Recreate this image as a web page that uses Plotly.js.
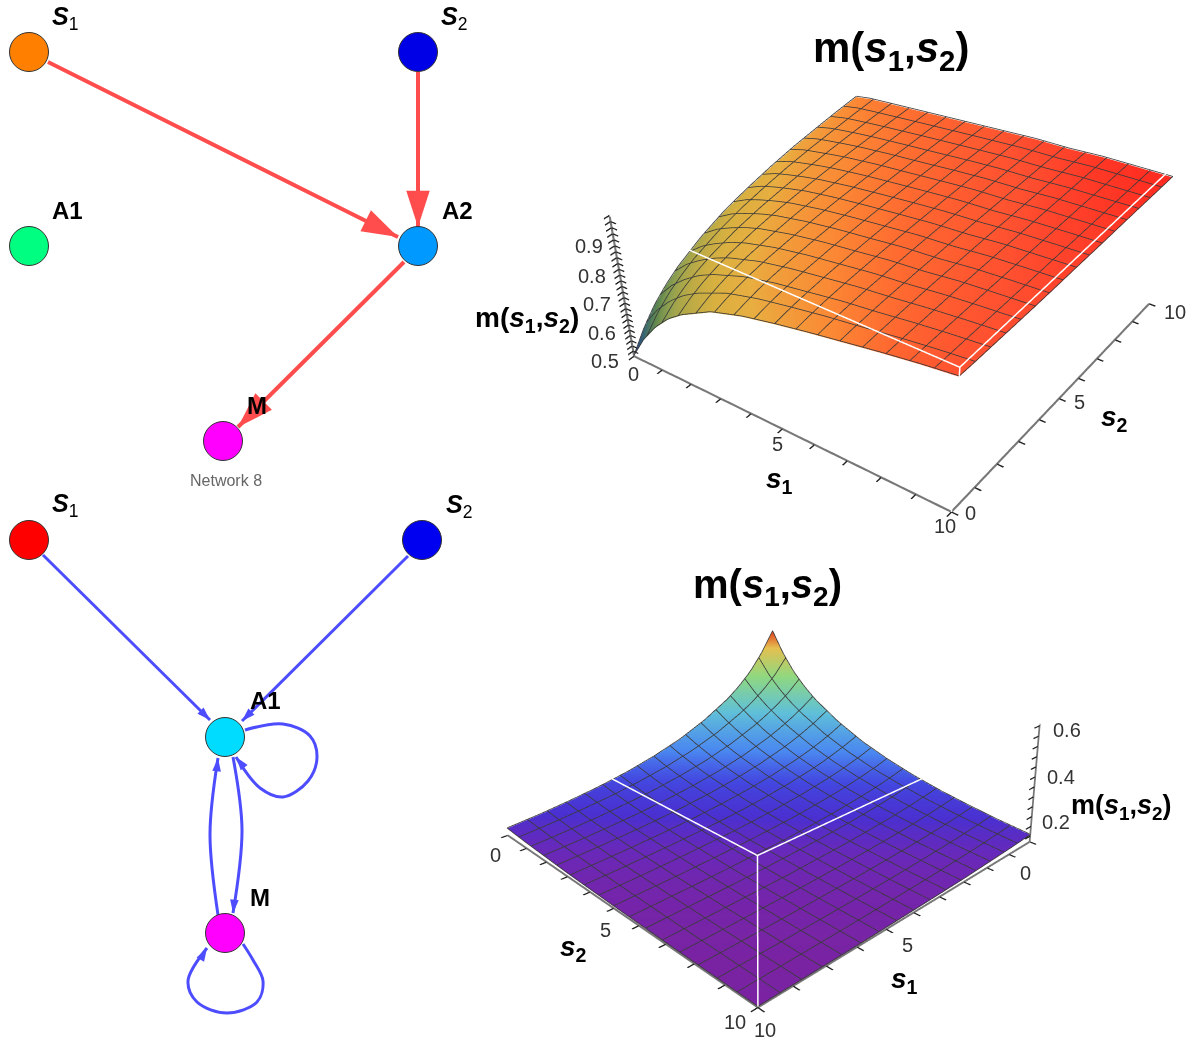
<!DOCTYPE html>
<html><head><meta charset="utf-8">
<script src="https://cdn.plot.ly/plotly-3.0.1.min.js"></script>
<style>html,body{margin:0;padding:0;background:#fff}</style></head>
<body><div id="chart" style="width:1188px;height:1042px"></div>
<script>
// ---- network data (page-sized axis units) ----
const topNodeNames=['S1','S2','A1','A2','M'];
const topNodeX=[29,418,29,418,223];
const topNodeY=[52,52,246,246,441];
const topNodeColors=['#ff8000','#0000e6','#00ff80','#0099ff','#ff00ff'];
const topEdges=[
 {x:[48,398],y:[62,237]},
 {x:[418,418],y:[72,227]},
 {x:[404,238],y:[262,427]}];
const botNodeNames=['S1','S2','A1','M'];
const botNodeX=[29,422,225,225];
const botNodeY=[540,540,737,933];
const botNodeColors=['#ff0000','#0000f0','#00dcff','#ff00ff'];
const botEdges=[
 {x:[43,210],y:[555,720]},
 {x:[408,242],y:[556,721]},
 {x:[245,283,310,317,308,283,260,236],y:[730,724,736,757,781,797,788,757]},
 {x:[233,242,233],y:[757,830,913]},
 {x:[218,210,218],y:[915,834,758]},
 {x:[243,253,263,257,227,197,188,207],y:[944,960,981,1002,1013,1002,981,948]}];
// ---- surface data ----
const gridS=[0,0.5,1,1.5,2,3,4,5,6,7,8,9,10];
const ticksS=[0,1,2,3,4,5,6,7,8,9,10];
const blankS=['','','','','','','','','','',''];
// m1: rows s1, columns s2
const m1=[
[.500,.570,.624,.664,.696,.743,.778,.802,.822,.838,.850,.861,.870],
[.590,.645,.687,.718,.744,.781,.808,.827,.843,.855,.864,.873,.880],
[.660,.703,.735,.759,.779,.808,.829,.844,.856,.865,.873,.880,.885],
[.715,.748,.774,.793,.808,.831,.847,.858,.868,.875,.881,.886,.890],
[.755,.782,.803,.818,.831,.849,.862,.871,.878,.884,.888,.892,.895],
[.815,.832,.845,.855,.863,.874,.883,.889,.894,.898,.900,.903,.905],
[.850,.862,.872,.879,.884,.893,.899,.903,.907,.909,.911,.914,.915],
[.875,.884,.891,.896,.901,.907,.912,.916,.919,.921,.923,.924,.925],
[.897,.904,.910,.914,.917,.922,.926,.928,.930,.932,.933,.934,.935],
[.917,.921,.924,.927,.929,.932,.934,.936,.937,.938,.939,.940,.940],
[.937,.939,.941,.942,.943,.946,.947,.948,.948,.949,.949,.950,.950],
[.955,.955,.955,.955,.955,.955,.955,.955,.955,.955,.955,.955,.955],
[.970,.968,.967,.966,.965,.963,.962,.962,.961,.961,.961,.960,.960]];
const m2=[
[.735,.620,.530,.462,.407,.325,.262,.216,.180,.153,.133,.117,.106],
[.620,.530,.462,.407,.363,.291,.237,.196,.166,.142,.125,.111,.101],
[.530,.462,.407,.363,.325,.262,.216,.180,.153,.133,.117,.106,.097],
[.462,.407,.363,.325,.291,.237,.196,.166,.142,.125,.111,.101,.094],
[.407,.363,.325,.291,.262,.216,.180,.153,.133,.117,.106,.097,.091],
[.325,.291,.262,.237,.216,.180,.153,.133,.117,.106,.097,.091,.085],
[.262,.237,.216,.196,.180,.153,.133,.117,.106,.097,.091,.085,.082],
[.216,.196,.180,.166,.153,.133,.117,.106,.097,.091,.085,.082,.079],
[.180,.166,.153,.142,.133,.117,.106,.097,.091,.085,.082,.079,.077],
[.153,.142,.133,.125,.117,.106,.097,.091,.085,.082,.079,.077,.075],
[.133,.125,.117,.111,.106,.097,.091,.085,.082,.079,.077,.075,.074],
[.117,.111,.106,.101,.097,.091,.085,.082,.079,.077,.075,.074,.073],
[.106,.101,.097,.094,.091,.085,.082,.079,.077,.075,.074,.073,.072]];
const z1Range=[0.5,1.0];
const z2Range=[0.07,0.74];
const z2Axis=[0.07,0.66];
const z1Ticks=[.5,.52,.54,.56,.58,.6,.62,.64,.66,.68,.7,.72,.74,.76,.78,.8,.82,.84,.86,.88,.9,.92,.94,.96,.98,1];
const z2MinorTicks=[.1,.15,.2,.25,.3,.35,.4,.45,.5,.55,.6,.65];
const box1={x:[10,10,0,10,10,10],y:[0,0,0,0,10,0],z:[.5,1,1,1,1,1]};
const box2={x:[10,10,10,10,0],y:[10,10,0,10,10],z:[.07,.66,.66,.66,.66]};
const colorTilt1=0.004; // colour drifts to red with s2 as well as with height
const scale1=[[0,'#1f3f8c'],[.16,'#3a6a70'],[.3,'#60884f'],[.42,'#8fa050'],[.51,'#b0a848'],[.64,'#d8b040'],[.72,'#e8ae40'],[.82,'#fb8a35'],[.88,'#ff6a30'],[.94,'#ff5030'],[1,'#ff2a20']];
const scale2=[[0,'#7b22a0'],[.03,'#6a28b8'],[.07,'#4a30d0'],[.14,'#4348e0'],[.245,'#4a88f0'],[.43,'#60c0d8'],[.66,'#90d880'],[.87,'#e5c050'],[1,'#e04020']];
// tick labels: text, page position
const tickLabels1=[['0',633,374],['5',777,444],['10',945,526],['0',970,513],['5',1079,402],['10',1175,312],['0.5',605,361],['0.6',602,333],['0.7',597,304],['0.8',592,276],['0.9',589,246]];
const tickLabels2=[['0',495,855],['5',605,930],['10',735,1022],['10',765,1030],['5',907,945],['0',1025,873],['0.2',1056,822],['0.4',1061,777],['0.6',1067,730]];
const meshCells=16;

const FONT='"Liberation Sans", Arial, sans-serif';
const traces=[];
function edgeTraces(edges,color,w,size){
 edges.forEach(e=>{
  traces.push({type:'scatter',mode:'lines+markers',x:e.x,y:e.y,xaxis:'x',yaxis:'y',hoverinfo:'skip',
   line:{color:color,width:w,shape:'spline',smoothing:1},
   marker:{symbol:'arrow',angleref:'previous',color:color,opacity:1,line:{width:0},
    size:e.x.map((v,i)=>i===e.x.length-1?size:0)}});
 });
}
function nodes(x,y,c,names){
 traces.push({type:'scatter',mode:'markers',x:x,y:y,text:names,xaxis:'x',yaxis:'y',hoverinfo:'text',
  marker:{size:39,color:c,opacity:1,line:{color:'#333',width:1}}});
}
edgeTraces(topEdges,'#ff4d4d',4,38);
edgeTraces(botEdges,'#4d4dff',3,14);
nodes(topNodeX,topNodeY,topNodeColors,topNodeNames);
nodes(botNodeX,botNodeY,botNodeColors,botNodeNames);

function surf(z,color,scale,scene,r){
 traces.push({type:'surface',scene:scene,x:gridS,y:gridS,z:z,surfacecolor:color,cmin:r[0],cmax:r[1],colorscale:scale,showscale:false,
  lighting:{ambient:1,diffuse:0,specular:0,roughness:1,fresnel:0},hoverinfo:'skip',
  contours:{x:{show:false,highlight:false},y:{show:false,highlight:false},z:{show:false,highlight:false}}});
}
// mesh lines (z[s2 index][s1 index])
function sample(z,sx,sy){
 const idx=v=>{let i=0;while(i<gridS.length-2&&gridS[i+1]<=v)i++;return i;};
 const i=idx(sx),j=idx(sy);
 const u=(sx-gridS[i])/(gridS[i+1]-gridS[i]),w=(sy-gridS[j])/(gridS[j+1]-gridS[j]);
 return (z[j][i]*(1-u)+z[j][i+1]*u)*(1-w)+(z[j+1][i]*(1-u)+z[j+1][i+1]*u)*w;
}
function mesh(z,scene,lift,width){
 const X=[],Y=[],Z=[];
 const fine=[];for(let k=0;k<=meshCells*4;k++)fine.push(10*k/(meshCells*4));
 for(let m=0;m<=meshCells;m++){
  const s=10*m/meshCells;
  fine.forEach(t=>{X.push(s);Y.push(t);Z.push(sample(z,s,t)+lift);});
  X.push(null);Y.push(null);Z.push(null);
  fine.forEach(t=>{X.push(t);Y.push(s);Z.push(sample(z,t,s)+lift);});
  X.push(null);Y.push(null);Z.push(null);
 }
 traces.push({type:'scatter3d',scene:scene,mode:'lines',x:X,y:Y,z:Z,connectgaps:false,line:{color:'#3a3a3a',width:width},hoverinfo:'skip'});
}
function line3(scene,x,y,z,color,width){
 traces.push({type:'scatter3d',scene:scene,mode:'lines',x:x,y:y,z:z,connectgaps:false,line:{color:color,width:width},hoverinfo:'skip'});
}
const z1Grid=gridS.map((_,j)=>m1.map(r=>r[j]));
surf(z1Grid,z1Grid.map((row,j)=>row.map(v=>v+colorTilt1*gridS[j])),scale1,'scene',z1Range);
surf(m2,m2,scale2,'scene2',[.07,.735]);
mesh(z1Grid,'scene',.003,1.6);
mesh(m2,'scene2',.003,1.6);
line3('scene',box1.x,box1.y,box1.z,'#fff',3);
line3('scene2',box2.x.map(v=>Math.min(v,9.995)),box2.y.map(v=>Math.min(v,9.995)),box2.z,'#fff',3);
// heavier axis lines
line3('scene',[0,9.995],[.005,.005],[.5005,.5005],'#777',3.5);
line3('scene',[9.995,9.995],[.005,10],[.5005,.5005],'#777',3.5);
line3('scene',[.005,.005],[.005,.005],[.5,1],'#777',3.5);
line3('scene2',[9.995,9.995],[0,9.995],[.0705,.0705],'#777',3.5);
line3('scene2',[0,9.995],[9.995,9.995],[.0705,.0705],'#777',3.5);
// z axis hatch marks
{const X=[],Y=[],Z=[];z1Ticks.forEach(t=>{X.push(0,.18,null);Y.push(.005,.005,null);Z.push(t,t,null);});line3('scene',X,Y,Z,'#222',2.5);}
// scene2 z axis sits on the right-hand corner (s1=0, s2=10)
line3('scene2',z2Axis.map(v=>.005),z2Axis.map(v=>9.995),z2Axis,'#777',3.5);
{const X=[],Y=[],Z=[];z2MinorTicks.forEach(t=>{X.push(0,.25,null);Y.push(9.995,9.995,null);Z.push(t,t,null);});line3('scene2',X,Y,Z,'#222',2.5);}

function ax(range,tv,tt){return {title:{text:''},range:range,autorange:false,showgrid:false,zeroline:false,showbackground:false,showspikes:false,
 showline:true,linecolor:'#777',linewidth:4,ticks:'outside',ticklen:6,tickwidth:3,tickcolor:'#222',tickangle:0,
 tickmode:'array',tickvals:tv,ticktext:tt,showticklabels:false,tickfont:{family:FONT,size:14,color:'#333'}};}
const W=1188,H=1042;
const ann=[];
function label(x,y,t,s,c){ann.push({xref:'x',yref:'y',x:x,y:y,text:t,showarrow:false,xanchor:'center',yanchor:'middle',font:{family:FONT,size:s,color:c||'#000'}});}
const S1='<b><i>S</i></b><sub>1</sub>',S2='<b><i>S</i></b><sub>2</sub>';
const ms='<b>m(<i>s</i><sub>1</sub>,<i>s</i><sub>2</sub>)</b>';
const s1='<b><i>s</i><sub>1</sub></b>',s2='<b><i>s</i><sub>2</sub></b>';
label(65,18,S1,25);label(454,18,S2,25);label(67,210,'<b>A1</b>',24);label(457,210,'<b>A2</b>',24);label(257,405,'<b>M</b>',24);
label(226,480,'Network 8',16,'#666');
label(65,505,S1,25);label(459,506,S2,25);label(265,700,'<b>A1</b>',24);label(260,897,'<b>M</b>',24);
label(891,50,ms,42);label(767,587,ms,40);
label(527,319,ms,28);label(779,480,s1,28);label(1114,418,s2,28);
label(1121,807,ms,27);label(573,948,s2,28);label(904,980,s1,28);
tickLabels1.concat(tickLabels2).forEach(t=>label(t[1],t[2],t[0],20,'#333'));

const layout={width:W,height:H,margin:{l:0,r:0,t:0,b:0},paper_bgcolor:'#fff',plot_bgcolor:'#fff',showlegend:false,
 xaxis:{domain:[0,1],range:[0,W],visible:false,fixedrange:true},
 yaxis:{domain:[0,1],range:[H,0],visible:false,fixedrange:true},
 annotations:ann,
 scene:{domain:{x:[570/W,1],y:[0,1]},
  xaxis:ax([0,10],ticksS,blankS),yaxis:ax([0,10],ticksS,blankS),zaxis:ax(z1Range,z1Ticks,z1Ticks.map(v=>'')),
  aspectmode:'manual',aspectratio:{x:1,y:1,z:.425},
  camera:{eye:{x:1.5576,y:-2.2726,z:1.849},center:{x:.2346,y:-.4166,z:-.468},up:{x:0,y:0,z:1}}},
 scene2:{domain:{x:[346/W,1],y:[0,800/H]},
  xaxis:ax([0,10],ticksS,blankS),yaxis:ax([0,10],ticksS,blankS),
  zaxis:Object.assign(ax(z2Range,[],[]),{showline:false,ticks:''}),
  aspectmode:'manual',aspectratio:{x:1,y:1,z:.386},
  camera:{eye:{x:1.622,y:1.708,z:1.060},center:{x:-.0678,y:-.0714,z:.333},up:{x:0,y:0,z:1}}}
};
Plotly.newPlot('chart',traces,layout,{displayModeBar:false});
</script></body></html>
